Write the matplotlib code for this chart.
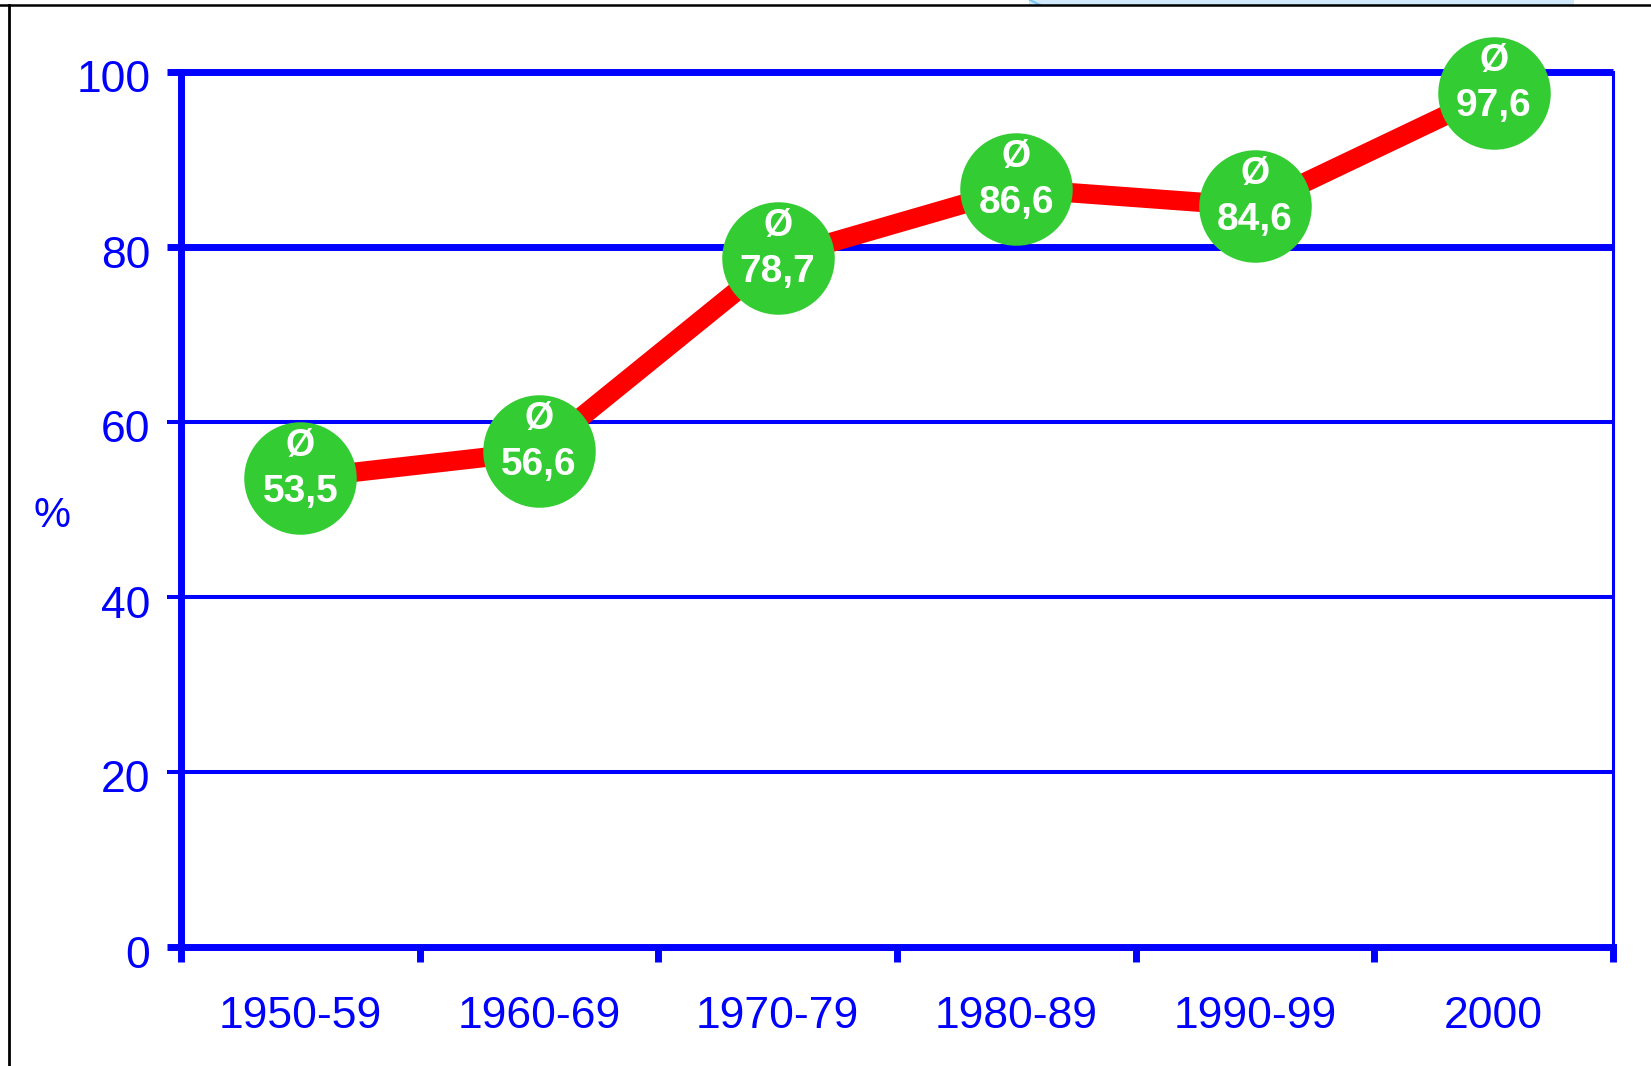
import matplotlib
matplotlib.use("Agg")
import matplotlib.pyplot as plt
import matplotlib.transforms as mtransforms
from matplotlib.lines import Line2D
from matplotlib.patches import Rectangle

categories = ["1950-59", "1960-69", "1970-79", "1980-89", "1990-99", "2000"]
values = [53.5, 56.6, 78.7, 86.6, 84.6, 97.6]
y_ticks = [0, 20, 40, 60, 80, 100]

BLUE = "#0000FF"
GREEN = "#33CC33"
RED = "#FF0000"

plt.rcParams["font.family"] = ["Liberation Sans", "DejaVu Sans"]

W, H = 1651, 1066
fig = plt.figure(figsize=(W / 100, H / 100), dpi=100)
fig.patch.set_facecolor("white")

# axes placement (pixels)
left_px, right_px, top_px, bottom_px = 181, 1613, 71.5, 946.5
ax = fig.add_axes([left_px / W, 1 - bottom_px / H,
                   (right_px - left_px) / W, (bottom_px - top_px) / H])

n = len(categories)
xs = list(range(n))
ax.set_xlim(-0.5, n - 0.5)
ax.set_ylim(0, 100)

# gridlines (extend left to form tick marks)
tick_frac = 14 / (right_px - left_px)
for yv in y_ticks[1:]:
    lw = 5 if yv in (80, 100) else 2.9
    ax.axhline(yv, xmin=-tick_frac, xmax=1, color=BLUE, lw=lw,
               clip_on=False, zorder=1, solid_capstyle="butt")
# zero tick
ax.axhline(0, xmin=-tick_frac, xmax=0, color=BLUE, lw=5,
           clip_on=False, zorder=1, solid_capstyle="butt")

# red line and green markers
ax.plot(xs, values, color=RED, lw=14, zorder=2, solid_capstyle="butt")
ax.plot(xs, values, linestyle="none", marker="o", markersize=81,
        markerfacecolor=GREEN, markeredgewidth=0, zorder=3, clip_on=False)

for x, v in zip(xs, values):
    ax.annotate("Ø", (x, v), xytext=(0, 23), textcoords="offset points",
                ha="center", va="center", color="white", fontsize=27,
                fontweight="bold", zorder=4, annotation_clip=False)
    ax.annotate(f"{v:.1f}".replace(".", ","), (x, v), xytext=(0, -10),
                textcoords="offset points", ha="center", va="center",
                color="white", fontsize=28, fontweight="bold", zorder=4,
                annotation_clip=False)

# spines
for s in ["left", "bottom"]:
    ax.spines[s].set_color(BLUE)
    ax.spines[s].set_linewidth(5)
ax.spines["right"].set_color(BLUE)
ax.spines["right"].set_linewidth(2.2)
ax.spines["top"].set_visible(False)

# y ticks
ax.set_yticks(y_ticks)
ax.set_yticklabels([str(t) for t in y_ticks])
ax.tick_params(axis="y", length=0, pad=22, labelsize=32, labelcolor=BLUE)
offset = mtransforms.ScaledTranslation(0, -5 / 100, fig.dpi_scale_trans)
for lbl in ax.get_yticklabels():
    lbl.set_transform(lbl.get_transform() + offset)

# x ticks: labels at centers, marks at boundaries
ax.set_xticks(xs)
ax.set_xticklabels(categories)
ax.set_xticks([i - 0.5 for i in range(n + 1)], minor=True)
ax.tick_params(axis="x", which="major", length=0, pad=36, labelsize=32,
               labelcolor=BLUE)
ax.tick_params(axis="x", which="minor", length=10.5, width=5, color=BLUE,
               direction="out")

# % label
fig.text(52 / W, 1 - 516 / H, "%", color=BLUE, fontsize=30,
         ha="center", va="center")

# outer frame pieces
fig.add_artist(Rectangle((1029 / W, 1 - 5 / H), (1574 - 1029) / W, 5 / H,
                         transform=fig.transFigure, facecolor="#cfe9fb",
                         edgecolor="none"))
fig.add_artist(Line2D([1030 / W, 1040 / W], [1.0, 1 - 5 / H],
                      transform=fig.transFigure, color="#7cc4f0", lw=1.5))
fig.add_artist(Line2D([0, 1], [1 - 5 / H, 1 - 5 / H],
                      transform=fig.transFigure, color="black", lw=1.8))
fig.add_artist(Line2D([8.5 / W, 8.5 / W], [0, 1 - 5 / H],
                      transform=fig.transFigure, color="black", lw=2))

fig.savefig("out.png", dpi=100, facecolor="white")
